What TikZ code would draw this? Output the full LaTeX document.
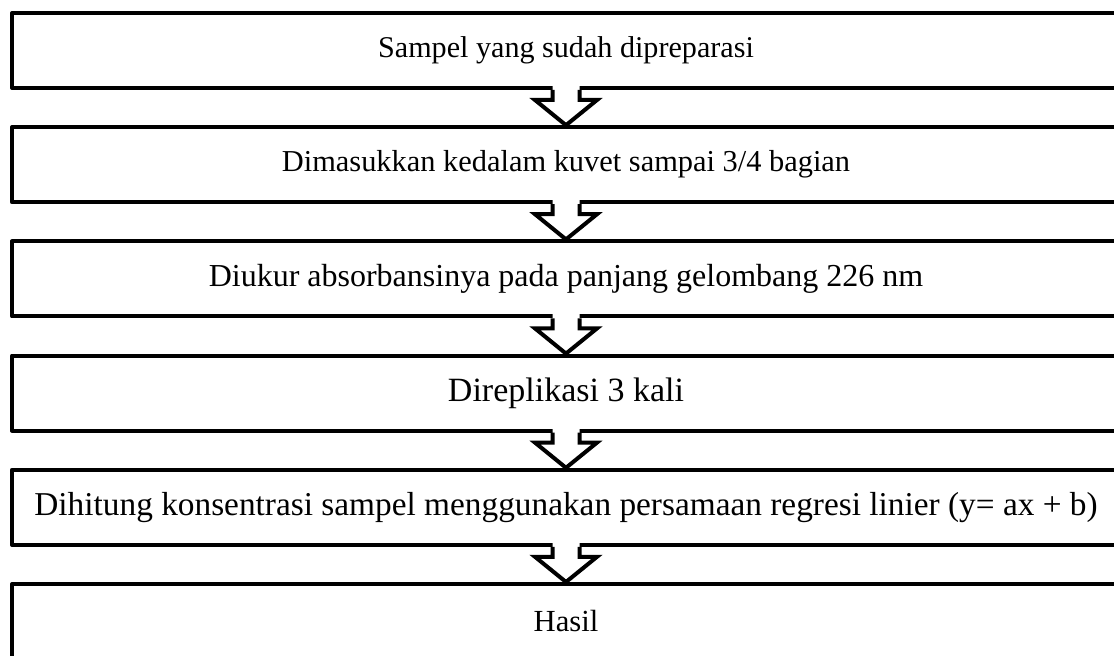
\documentclass[tikz,border=0pt]{standalone}
\usepackage{fontspec}
\setmainfont{Liberation Serif}
\usetikzlibrary{calc}
\tikzset{
  stage/.style={draw, line width=3pt, line join=round, minimum width=831pt,
    minimum height=56.25pt, inner sep=0pt, align=center,
    font=\fontsize{24pt}{28pt}\selectfont},
  fs/.style={font=\fontsize{#1}{#1}\selectfont},
  blockline/.style={line width=3pt, line join=miter}
}
% downward block arrow from the bottom edge of #1 to the top edge of #2
\newcommand{\flowarrow}[2]{%
  \fill[white] ($(#1.south)+(-13.5,-5)$) -- ($(#1.south)+(-13.5,10)$)
    -- ($(#1.south)+(-31,10)$) -- (#2.north) -- ($(#1.south)+(31,10)$)
    -- ($(#1.south)+(13.5,10)$) -- ($(#1.south)+(13.5,-5)$) -- cycle;
  \draw[blockline] ($(#1.south)+(-13.5,0)$) -- ($(#1.south)+(-13.5,10)$)
    -- ($(#1.south)+(-31,10)$) -- (#2.north) -- ($(#1.south)+(31,10)$)
    -- ($(#1.south)+(13.5,10)$) -- ($(#1.south)+(13.5,0)$);
}
\begin{document}
\begin{tikzpicture}[x=0.75pt,y=-0.75pt]
\useasboundingbox (0,0) rectangle (1114,656);
\clip (0,0) rectangle (1114,656);
\fill[white] (0,0) rectangle (1114,656);
\node[stage, fs=22.6pt] (s1) at (566,50.5)  {Sampel yang sudah dipreparasi};
\node[stage, fs=22.8pt] (s2) at (566,164.7) {Dimasukkan kedalam kuvet sampai 3/4 bagian};
\node[stage] (s3) at (566,278.9) {Diukur absorbansinya pada panjang gelombang 226 nm};
\node[stage, fs=25.5pt] (s4) at (566,393.1) {Direplikasi 3 kali};
\node[stage, fs=25pt] (s5) at (566,507.3) {Dihitung konsentrasi sampel menggunakan persamaan regresi linier (y= ax + b)};
\node[stage, fs=23pt] (s6) at (566,621.5) {Hasil};
\flowarrow{s1}{s2}
\flowarrow{s2}{s3}
\flowarrow{s3}{s4}
\flowarrow{s4}{s5}
\flowarrow{s5}{s6}
\end{tikzpicture}
\end{document}
